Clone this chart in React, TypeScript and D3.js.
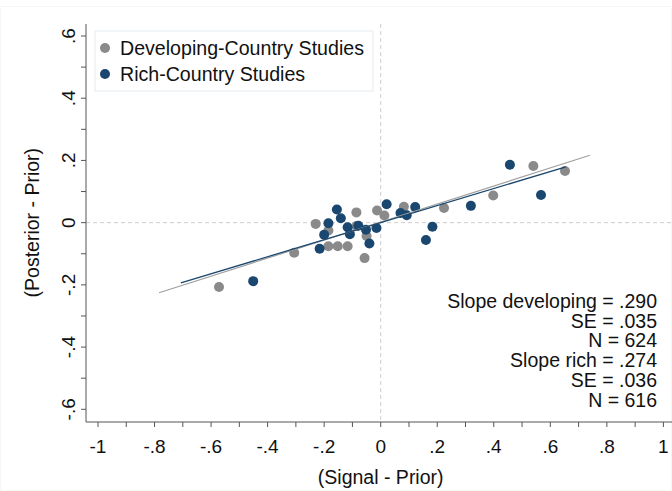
import React from "react";
import * as d3 from "d3";

// Binned scatter: Developing-country studies
const devX = [-0.572, -0.306, -0.23, -0.185, -0.185, -0.152, -0.117, -0.086, -0.086, -0.05, -0.057, -0.013, 0.013, 0.082, 0.224, 0.398, 0.54, 0.652];
const devY = [-0.207, -0.097, -0.004, -0.025, -0.076, -0.076, -0.076, 0.033, -0.011, -0.043, -0.114, 0.039, 0.023, 0.051, 0.047, 0.087, 0.182, 0.166];
// Binned scatter: Rich-country studies
const richX = [-0.451, -0.216, -0.2, -0.185, -0.155, -0.141, -0.117, -0.109, -0.079, -0.052, -0.04, -0.015, 0.021, 0.07, 0.092, 0.122, 0.16, 0.183, 0.319, 0.457, 0.567];
const richY = [-0.188, -0.084, -0.039, -0.002, 0.042, 0.014, -0.015, -0.037, -0.01, -0.023, -0.067, -0.017, 0.059, 0.031, 0.024, 0.05, -0.056, -0.013, 0.054, 0.186, 0.089];

// Linear fits: [intercept, slope, xmin, xmax]
const devFit = [0.002, 0.29, -0.784, 0.74];
const richFit = [0.0, 0.274, -0.707, 0.655];

const xTicks = [-1, -0.8, -0.6, -0.4, -0.2, 0, 0.2, 0.4, 0.6, 0.8, 1];
const xTickLabels = ["-1", "-.8", "-.6", "-.4", "-.2", "0", ".2", ".4", ".6", ".8", "1"];
const xMinor = [-0.9, -0.7, -0.5, -0.3, -0.1, 0.1, 0.3, 0.5, 0.7, 0.9];
const yTicks = [-0.6, -0.4, -0.2, 0, 0.2, 0.4, 0.6];
const yTickLabels = ["-.6", "-.4", "-.2", "0", ".2", ".4", ".6"];
const yMinor = [-0.5, -0.3, -0.1, 0.1, 0.3, 0.5];

const legendLabels = ["Developing-Country Studies", "Rich-Country Studies"];
const annotations = ["Slope developing = .290", "SE = .035", "N = 624", "Slope rich = .274", "SE = .036", "N = 616"];

const GRAY = "#8a8a8a";
const NAVY = "#1a476f";
const FONT = "'Liberation Sans', Arial, sans-serif";

export default function App() {
  const W = 672, H = 491;
  const x = d3.scaleLinear().domain([-1, 1]).range([98, 663.4]);
  const y = d3.scaleLinear().domain([-0.6, 0.6]).range([409.3, 36]);
  const axisLeft = 86, axisBottom = 422, plotTop = 24, plotRight = 672;

  const fitLine = (f: number[]) => {
    const gen = d3.line<number>().x((v) => x(v)).y((v) => y(f[0] + f[1] * v));
    return gen([f[2], f[3]]) || "";
  };

  return (
    <svg width={W} height={H} style={{ position: "absolute", left: 0, top: 0, background: "#fff" }} fontFamily={FONT}>
      <rect x={0.5} y={6.5} width={W - 1} height={H - 7} fill="none" stroke="#f6f6f6" />
      {/* reference lines */}
      <line x1={axisLeft} x2={plotRight} y1={y(0)} y2={y(0)} stroke="#cfcfcf" strokeDasharray="4,3" />
      <line x1={x(0)} x2={x(0)} y1={plotTop} y2={axisBottom} stroke="#cfcfcf" strokeDasharray="4,3" />

      {/* axes */}
      <line x1={axisLeft} x2={axisLeft} y1={plotTop} y2={axisBottom} stroke="#555" />
      <line x1={axisLeft} x2={plotRight} y1={axisBottom} y2={axisBottom} stroke="#555" />
      {yTicks.concat(yMinor).map((v, i) => (
        <line key={"yt" + i} x1={axisLeft - 5} x2={axisLeft} y1={y(v)} y2={y(v)} stroke="#555" />
      ))}
      {xTicks.concat(xMinor).map((v, i) => (
        <line key={"xt" + i} x1={x(v)} x2={x(v)} y1={axisBottom} y2={axisBottom + 5} stroke="#555" />
      ))}
      {yTicks.map((v, i) => (
        <text key={"yl" + i} transform={`translate(75,${y(v)}) rotate(-90)`} textAnchor="middle" fontSize={19} fill="#111">
          {yTickLabels[i]}
        </text>
      ))}
      {xTicks.map((v, i) => (
        <text key={"xl" + i} x={x(v)} y={453} textAnchor="middle" fontSize={19} fill="#111">
          {xTickLabels[i]}
        </text>
      ))}
      <text x={x(0)} y={484} textAnchor="middle" fontSize={19.5} fill="#111">(Signal - Prior)</text>
      <text transform={`translate(38.5,${y(0)}) rotate(-90)`} textAnchor="middle" fontSize={19.5} fill="#111">(Posterior - Prior)</text>

      {/* points */}
      {devX.map((v, i) => (
        <circle key={"d" + i} cx={x(v)} cy={y(devY[i])} r={5} fill={GRAY} />
      ))}
      {richX.map((v, i) => (
        <circle key={"r" + i} cx={x(v)} cy={y(richY[i])} r={5} fill={NAVY} />
      ))}

      {/* fitted lines */}
      <path d={fitLine(devFit)} fill="none" stroke="#a0a0a0" strokeWidth={1.2} />
      <path d={fitLine(richFit)} fill="none" stroke={NAVY} strokeWidth={1.3} />

      {/* legend */}
      <rect x={95} y={31} width={278} height={60} fill="#fff" stroke="#e6ecf0" />
      <circle cx={105} cy={48} r={5} fill={GRAY} />
      <circle cx={105} cy={74} r={5} fill={NAVY} />
      <text x={120} y={54.5} fontSize={19.6} fill="#111">{legendLabels[0]}</text>
      <text x={120} y={80.5} fontSize={19.6} fill="#111">{legendLabels[1]}</text>

      {/* annotation */}
      {annotations.map((t, i) => (
        <text key={"a" + i} x={657} y={308 + i * 19.7} textAnchor="end" fontSize={19.5} fill="#111">{t}</text>
      ))}
    </svg>
  );
}
